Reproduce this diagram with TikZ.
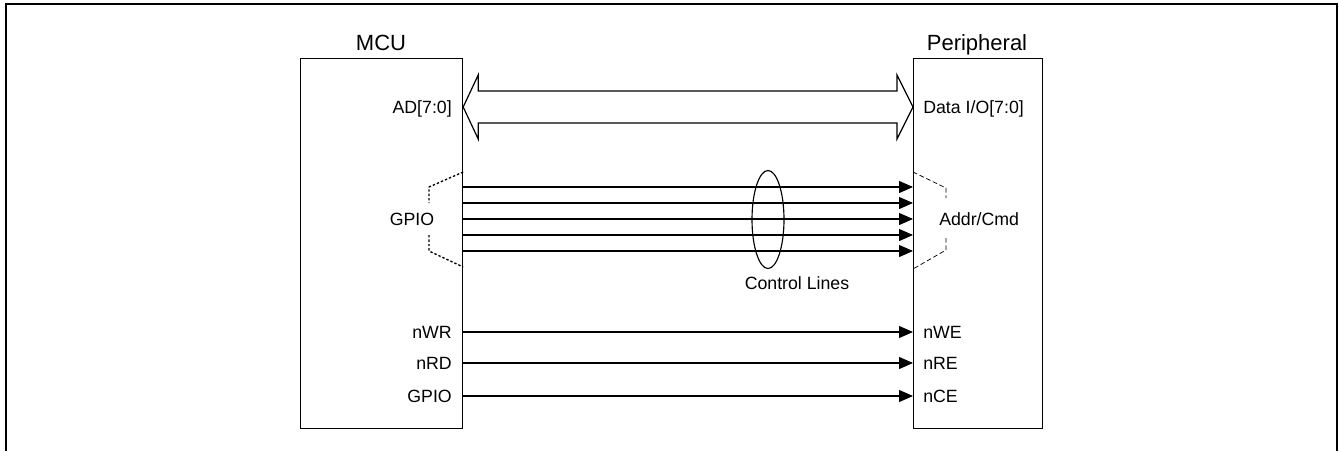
\documentclass[tikz,border=0pt]{standalone}
\usepackage{fontspec}
\setmainfont{Liberation Sans}
\usetikzlibrary{arrows.meta,shapes.geometric,calc}
\begin{document}
\begin{tikzpicture}[x=0.75pt,y=-0.75pt,
  box/.style={draw,line width=0.9pt,inner sep=0,anchor=north west},
  title/.style={font=\fontsize{16.5}{19}\selectfont,inner sep=0},
  lbl/.style={font=\fontsize{13.3}{16}\selectfont,inner sep=0},
  sig/.style={line width=0.85pt,-{Triangle[length=10.5pt,width=9pt]}},
  plain/.style={line width=0.85pt},
  bus/.style={line width=0.9pt,line join=miter},
  dotbr/.style={line width=1pt,dash pattern=on 1.8pt off 1.5pt},
  dashbr/.style={line width=0.55pt,dash pattern=on 3.5pt off 2pt},
  frame/.style={line width=1.8pt}]
\useasboundingbox (0,0) rectangle (1339,451);
% outer frame (open at bottom)
\draw[frame] (6,451) -- (6,4) -- (1337,4) -- (1337,451);
% boxes
\node[box,minimum width=121.5pt,minimum height=277.5pt] (mcu) at (300,58) {};
\node[box,minimum width=96.75pt,minimum height=277.5pt] (per) at (913,58) {};
\node[title,anchor=base] (mcut) at (381,50) {MCU};
\node[title,anchor=base] (pert) at (977,50) {Peripheral};
% bus
\coordinate (ady) at (0,107);
\node[lbl,anchor=base east] (ad) at (452,113.3) {AD[7:0]};
\node[lbl,anchor=base west] (dio) at (923,113.3) {Data I/O[7:0]};
\draw[bus] (ady -| mcu.east) -- ++(15,-32) -- ++(0,16)
  -- ($(ady -| per.west)+(-16,-16)$) -- ++(0,-16) -- (ady -| per.west)
  -- ++(-16,32) -- ++(0,-16) -- ($(ady -| mcu.east)+(15,16)$) -- ++(0,16) -- cycle;
% GPIO address/command lines
\foreach \i/\yy in {1/187,2/203,3/219,4/235,5/251}{
  \coordinate (g\i) at (0,\yy);
  \draw[sig] (g\i -| mcu.east) -- (g\i -| per.west);
}
\node[lbl,anchor=base] (gpio1) at (412,225.3) {GPIO};
\node[lbl,anchor=base west] (addr) at (939,225.3) {Addr/Cmd};
\coordinate (lb1) at (429,187);
\coordinate (lb2) at (429,203);
\coordinate (lb3) at (429,235);
\coordinate (lb4) at (429,251);
\draw[dotbr] (mcu.east |- 0,172) -- (lb1) -- (lb2);
\draw[dotbr] (lb3) -- (lb4) -- (mcu.east |- 0,267);
\coordinate (rb1) at (946,188);
\coordinate (rb2) at (946,198);
\coordinate (rb3) at (946,238);
\coordinate (rb4) at (946,250);
\draw[dashbr] (per.west |- 0,172) -- (rb1) -- (rb2);
\draw[dashbr] (rb3) -- (rb4) -- (per.west |- 0,269);
% bundle ellipse
\node[draw,ellipse,line width=0.85pt,inner sep=0,minimum width=24pt,minimum height=73.5pt] (bundle) at (768,219.5) {};
\node[lbl,anchor=base] (ctl) at (797,289) {Control Lines};
% strobe lines
\foreach \n/\yy/\l/\r in {wr/332/nWR/nWE,rd/363/nRD/nRE,ce/396/GPIO/nCE}{
  \coordinate (s\n) at (0,\yy);
  \node[lbl,anchor=base east] (l\n) at (452,\yy+6.3) {\l};
  \node[lbl,anchor=base west] (r\n) at (923,\yy+6.3) {\r};
  \draw[sig] (s\n -| mcu.east) -- (s\n -| per.west);
}
\end{tikzpicture}
\end{document}
